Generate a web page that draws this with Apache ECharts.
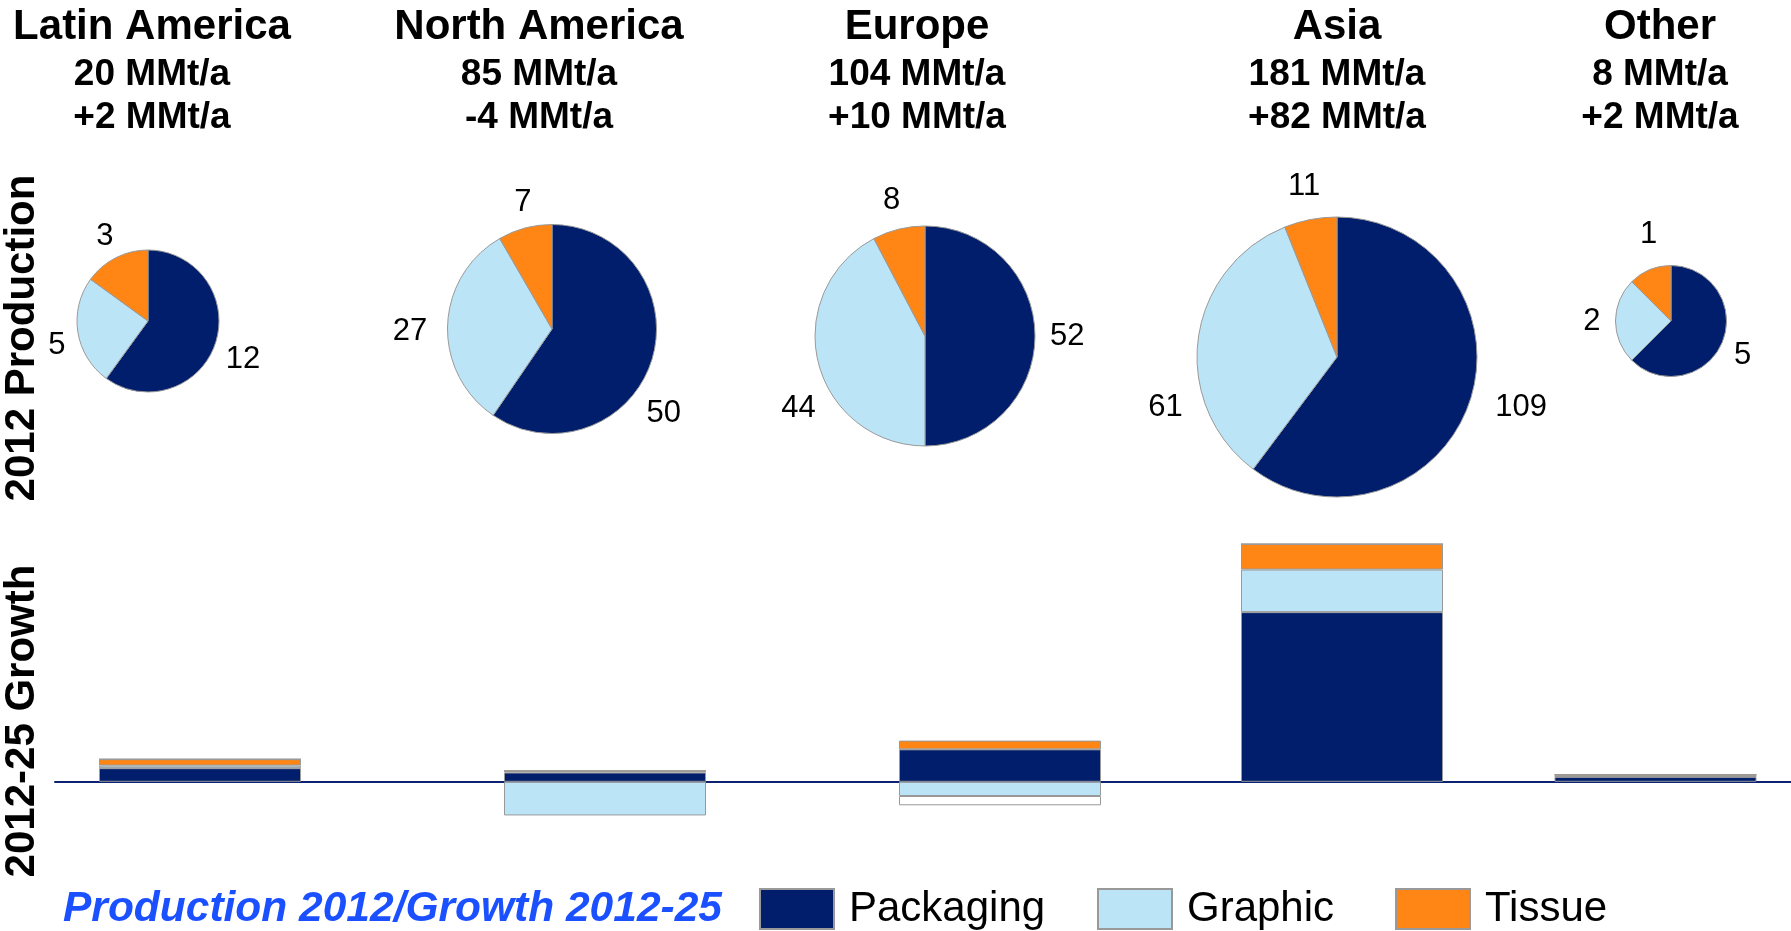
<!DOCTYPE html>
<html>
<head>
<meta charset="utf-8">
<script src="https://cdn.jsdelivr.net/npm/echarts@6/dist/echarts.min.js"></script>
<style>html,body{margin:0;padding:0;background:#fff}#chart{width:1791px;height:931px}</style>
</head>
<body>
<div id="chart"></div>
<script>
// ---------- data ----------
const regions = ['Latin America', 'North America', 'Europe', 'Asia', 'Other'];
const totalLabels = ['20 MMt/a', '85 MMt/a', '104 MMt/a', '181 MMt/a', '8 MMt/a'];
const growthLabels = ['+2 MMt/a', '-4 MMt/a', '+10 MMt/a', '+82 MMt/a', '+2 MMt/a'];
const grades = ['Packaging', 'Graphic', 'Tissue'];
// 2012 production (pies)
const prodPackaging = [12, 50, 52, 109, 5];
const prodGraphic = [5, 27, 44, 61, 2];
const prodTissue = [3, 7, 8, 11, 1];
// 2012-25 growth (stacked bars)
const growthPackaging = [4.7, 3.2, 11.2, 58.5, 1.7];
const growthGraphic = [0.9, -11.6, -4.9, 14.7, 0.2];
const growthTissue = [2.2, 0.6, 3.0, 8.8, 0.6];
const growthUnassigned = [0, 0, -3.2, 0, 0];
const captionText = 'Production 2012/Growth 2012-25';
const sideLabels = ['2012 Production', '2012-25 Growth'];

// ---------- layout / style ----------
const FONT = '"Liberation Sans", Arial, sans-serif';
const colors = ['#001E6B', '#BCE4F7', '#FF8514'];
const unassignedColor = '#FFFFFF';
const borderGray = '#999999';
const titleX = [152, 539, 917, 1337, 1660];
const pieCenters = [[148, 321], [552, 329], [925, 336], [1337, 357], [1671, 321]];
const pieRadii = [71, 104.5, 110, 140, 55.5];
// label placement tweaks (degrees of rotation around the pie, extra gap px) per region x grade
const labelAngleShift = [[4, -6, 0], [20, -3, 2], [0, -16, 0], [-3, -24, 0], [3, 0, 8]];
const labelGapExtra = [[-4, -3, -5], [0, 5, -3], [0, 0, 1], [8, 4, 4], [-4, 0, 5]];
const barCenters = [200, 605, 1000, 1342, 1660];
const barGridHalf = 140;
const barWidth = 202;
const yMin = -12, yMax = 82;
const gridTop = 544, gridHeight = 272.6;
const labelFont = 31, labelGap = 15;

const prodByGrade = [prodPackaging, prodGraphic, prodTissue];
const growthByGrade = [growthPackaging, growthGraphic, growthTissue];

const titles = regions.map((r, i) => ({
  text: '{a|' + r + '}\n{b|' + totalLabels[i] + '}\n{b|' + growthLabels[i] + '}',
  left: titleX[i], top: 2, textAlign: 'center', padding: 0,
  textStyle: {
    rich: {
      a: { fontSize: 42, fontWeight: 'bold', lineHeight: 50.4, fontFamily: FONT, color: '#000', align: 'center' },
      b: { fontSize: 37, fontWeight: 'bold', lineHeight: 43.8, fontFamily: FONT, color: '#000', align: 'center' }
    }
  }
}));

function pieLayout(i) {
  const vals = prodByGrade.map(a => a[i]);
  const total = vals.reduce((s, v) => s + v, 0);
  return function (p) {
    let cum = 0;
    for (let k = 0; k < p.dataIndex; k++) cum += vals[k];
    const mid = (cum + vals[p.dataIndex] / 2) / total * Math.PI * 2 + labelAngleShift[i][p.dataIndex] * Math.PI / 180;
    const dx = Math.sin(mid), dy = -Math.cos(mid);
    const w = p.labelRect.width, h = labelFont * 0.75;
    const D = pieRadii[i] + labelGap + labelGapExtra[i][p.dataIndex] + Math.abs(dx) * w / 2 + Math.abs(dy) * h / 2;
    return { x: pieCenters[i][0] + dx * D, y: pieCenters[i][1] + dy * D, align: 'center', verticalAlign: 'middle' };
  };
}

const series = [];
regions.forEach((r, i) => {
  series.push({
    type: 'pie', name: r, center: pieCenters[i], radius: pieRadii[i],
    startAngle: 90, clockwise: true, avoidLabelOverlap: false, silent: true,
    animation: false,
    label: { show: true, position: 'outside', formatter: '{c}', fontSize: labelFont, color: '#000', fontFamily: FONT },
    labelLine: { show: false },
    labelLayout: pieLayout(i),
    emphasis: { disabled: true },
    itemStyle: { borderColor: borderGray, borderWidth: 1 },
    data: grades.map((g, j) => ({ name: g, value: prodByGrade[j][i], itemStyle: { color: colors[j] } }))
  });
});

const grids = [], xAxes = [], yAxes = [];
barCenters.forEach((c, i) => {
  grids.push({ left: c - barGridHalf, width: barGridHalf * 2, top: gridTop, height: gridHeight });
  xAxes.push({ type: 'category', gridIndex: i, data: [regions[i]], show: false });
  yAxes.push({ type: 'value', gridIndex: i, min: yMin, max: yMax, show: false });
  grades.forEach((g, j) => {
    series.push({
      type: 'bar', name: g, xAxisIndex: i, yAxisIndex: i, stack: 's' + i, barWidth: barWidth,
      silent: true, animation: false,
      itemStyle: { color: colors[j], borderColor: borderGray, borderWidth: 1 },
      data: [growthByGrade[j][i]]
    });
  });
  series.push({
    type: 'bar', name: 'Unassigned', xAxisIndex: i, yAxisIndex: i, stack: 's' + i, barWidth: barWidth,
    silent: true, animation: false,
    itemStyle: { color: unassignedColor, borderColor: borderGray, borderWidth: 1 },
    data: [growthUnassigned[i]]
  });
});
// full-width zero line
grids.push({ left: 55, right: 0, top: gridTop, height: gridHeight });
xAxes.push({ type: 'category', gridIndex: 5, data: [''], axisLine: { show: true, onZero: true, lineStyle: { color: '#0B2273', width: 2 } }, axisTick: { show: false }, axisLabel: { show: false }, splitLine: { show: false } });
yAxes.push({ type: 'value', gridIndex: 5, min: yMin, max: yMax, show: false });

const legendX = [759, 1097, 1395];
const legends = grades.map((g, j) => ({
  data: [g], left: legendX[j], top: 887, padding: 0, orient: 'horizontal',
  itemWidth: 74, itemHeight: 40, icon: 'rect', selectedMode: false,
  textStyle: { fontSize: 42, color: '#000', fontFamily: FONT, lineHeight: 44, padding: [0, 0, 0, 10] }
}));

const option = {
  animation: false,
  textStyle: { fontFamily: FONT },
  title: titles,
  legend: legends,
  grid: grids,
  xAxis: xAxes,
  yAxis: yAxes,
  series: series,
  graphic: [
    { type: 'text', x: 22, y: 338, rotation: Math.PI / 2, silent: true,
      style: { text: sideLabels[0], font: 'bold 42px ' + FONT, align: 'center', verticalAlign: 'middle', fill: '#000' } },
    { type: 'text', x: 22, y: 721, rotation: Math.PI / 2, silent: true,
      style: { text: sideLabels[1], font: 'bold 42px ' + FONT, align: 'center', verticalAlign: 'middle', fill: '#000' } },
    { type: 'text', x: 63, y: 909, silent: true,
      style: { text: captionText, font: 'italic bold 42.5px ' + FONT, align: 'left', verticalAlign: 'middle', fill: '#1A50FF' } }
  ]
};
const chart = echarts.init(document.getElementById('chart'), null, { renderer: 'canvas' });
chart.setOption(option);
</script>
</body>
</html>
